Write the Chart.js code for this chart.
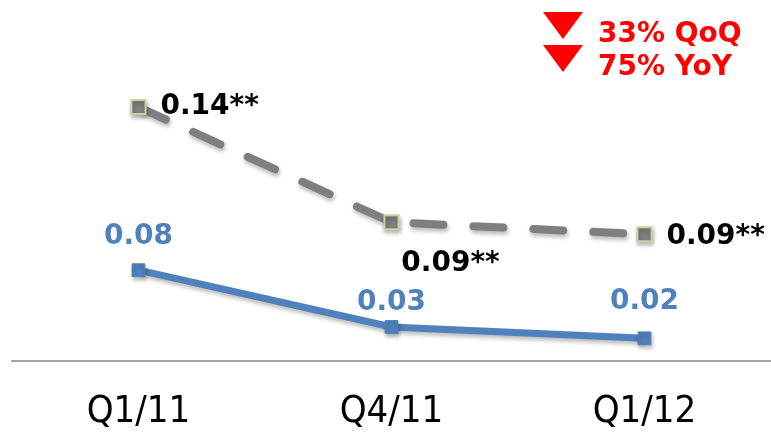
<!DOCTYPE html>
<html>
<head>
<meta charset="utf-8">
<script src="https://cdn.jsdelivr.net/npm/chart.js@4/dist/chart.umd.min.js"></script>
<style>
  html,body{margin:0;padding:0;background:#fff;}
  #wrap{width:771px;height:433px;position:relative;}
</style>
</head>
<body>
<div id="wrap"><canvas id="c" width="771" height="433"></canvas></div>
<script>
// data
const quarters = ['Q1/11', 'Q4/11', 'Q1/12'];
const epsValues = [0.08, 0.03, 0.02];
const epsLabels = ['0.08', '0.03', '0.02'];
const adjValues = [0.14, 0.092, 0.087];
const adjLabels = ['0.14**', '0.09**', '0.09**'];
const changeNotes = ['33% QoQ', '75% YoY'];

const BLUE = '#4f81bd', GRAY = '#7f7f7f', RED = '#ff0000';
const LABEL_FONT = 'bold 28px "DejaVu Sans", Verdana, sans-serif';

// where each value label sits relative to its point
const epsLabelPos = [{dx:0,dy:-33},{dx:0,dy:-24},{dx:0,dy:-37}];
const adjLabelPos = [{dx:22,dy:0,align:'left'},{dx:59,dy:41,align:'center'},{dx:22,dy:2,align:'left'}];

const shadowPlugin = {
  id:'shadow',
  beforeDatasetDraw(chart){ const c=chart.ctx; c.save(); c.shadowColor='rgba(0,0,0,0.28)'; c.shadowBlur=4; c.shadowOffsetX=1; c.shadowOffsetY=3; },
  afterDatasetDraw(chart){ chart.ctx.restore(); }
};

const labelPlugin = {
  id:'valueLabels',
  afterDatasetsDraw(chart){
    const ctx = chart.ctx;
    ctx.save();
    ctx.font = LABEL_FONT;
    ctx.textBaseline = 'middle';
    chart.getDatasetMeta(0).data.forEach((p,i)=>{
      const o = adjLabelPos[i];
      ctx.fillStyle = '#000'; ctx.textAlign = o.align;
      ctx.fillText(adjLabels[i], p.x+o.dx, p.y+o.dy);
    });
    chart.getDatasetMeta(1).data.forEach((p,i)=>{
      const o = epsLabelPos[i];
      ctx.fillStyle = BLUE; ctx.textAlign = 'center';
      ctx.fillText(epsLabels[i], p.x+o.dx, p.y+o.dy);
    });
    // QoQ / YoY change notes
    ctx.fillStyle = RED; ctx.textAlign = 'left';
    changeNotes.forEach((t,i)=>{
      const y = 35 + i*33;
      ctx.beginPath();
      ctx.moveTo(543, y-23); ctx.lineTo(583, y-23); ctx.lineTo(563, y+4); ctx.closePath(); ctx.fill();
      ctx.fillText(t, 598, y);
    });
    ctx.restore();
  }
};

new Chart(document.getElementById('c'), {
  type:'line',
  data:{
    labels: quarters,
    datasets:[
      { label:'adjusted', data: adjValues, yAxisID:'y2',
        borderColor: GRAY, borderWidth: 8, borderDash:[30,30], borderCapStyle:'round',
        pointStyle:'rect', pointRadius:10, pointBackgroundColor: GRAY, pointBorderColor:'#c3d69b', pointBorderWidth:2 },
      { label:'eps', data: epsValues, yAxisID:'y',
        borderColor: BLUE, borderWidth: 7,
        pointStyle:'rect', pointRadius:9, pointBackgroundColor: BLUE, pointBorderColor: BLUE, pointBorderWidth:1 }
    ]
  },
  options:{
    responsive:false, animation:false,
    layout:{ autoPadding:false, padding:{ left:12, right:0, top:0, bottom:0 } },
    plugins:{ legend:{display:false}, tooltip:{enabled:false} },
    scales:{
      x:{ offset:true,
        afterFit(s){ s.height = 72; s.paddingLeft = 0; s.paddingRight = 0; },
        grid:{ display:false, drawTicks:false },
        border:{ display:true, color:'#a6a6a6', width:2 },
        ticks:{ padding:28, color:'#000', font:{ family:'"Liberation Sans Narrow", "DejaVu Sans Condensed", sans-serif', size:38 } } },
      y:{ display:false, min:0, max:0.318 },
      y2:{ display:false, min:0.0342, max:0.1846 }
    }
  },
  plugins:[shadowPlugin, labelPlugin]
});
</script>
</body>
</html>
